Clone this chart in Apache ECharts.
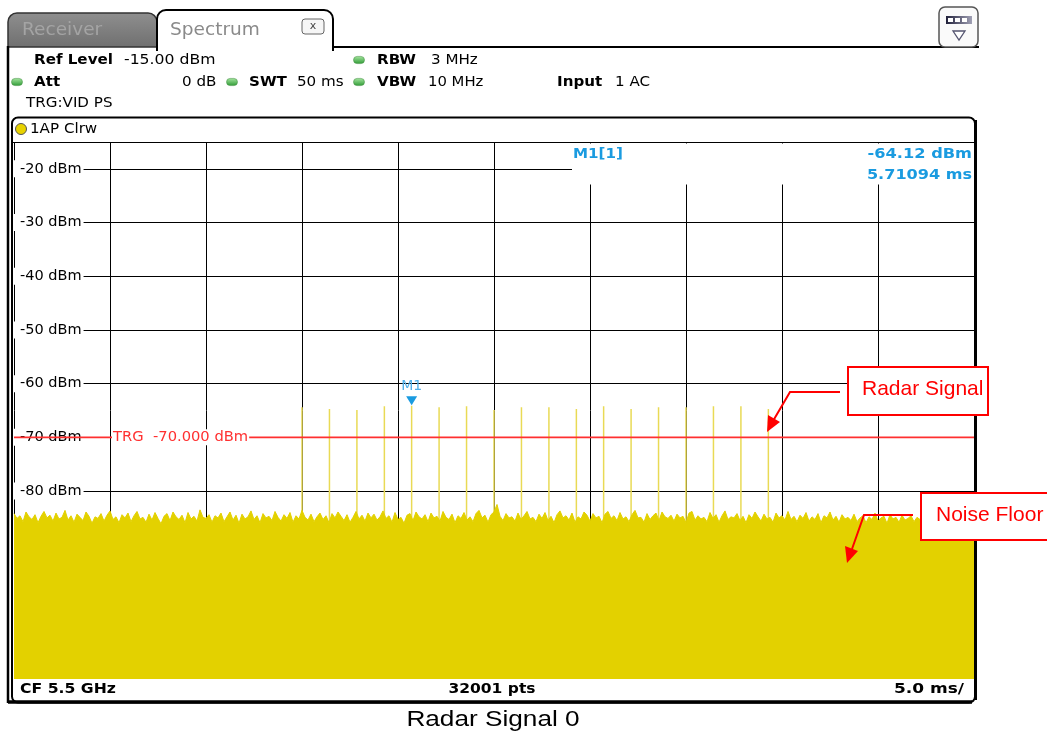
<!DOCTYPE html>
<html><head><meta charset="utf-8">
<script src="https://cdn.jsdelivr.net/npm/echarts@6/dist/echarts.min.js"></script>
<style>html,body{margin:0;padding:0;background:#fff}#c{width:1047px;height:733px}</style>
</head><body><div id="c"></div>
<script>
// ---- data ----
const xStartMs = -15, xEndMs = 35, xStepMs = 5;      // sweep 50 ms, 5 ms/div
const yMinDbm = -115, yMaxDbm = -15;                 // ref level -15 dBm, 10 dB/div
const yTickLabels = [-20, -30, -40, -50, -60, -70, -80];
const triggerLevel = -70;
const markerTime = 5.71094, markerLevel = -64.12;
const spikeTimes = [0.00,1.43,2.86,4.29,5.71,7.14,8.57,10.00,11.43,12.86,14.29,15.71,17.14,18.57,20.00,21.43,22.86,24.29];
const spikePeaks = [-64.4,-64.7,-64.9,-64.2,-64.12,-64.4,-64.2,-64.9,-64.4,-64.4,-64.7,-64.2,-64.7,-64.4,-64.4,-64.2,-64.2,-64.7];
const noiseLevels = [
-84.2,-85.1,-84.6,-85.7,-83.9,-84.8,-85.3,-84.4,-85.9,-84.7,-83.8,-85.0,-84.5,-85.6,-84.1,-85.2,-84.9,-83.6,-85.4,-84.6,
-85.8,-84.3,-84.9,-85.5,-83.9,-84.7,-86.0,-84.8,-85.1,-84.2,-85.6,-84.5,-83.7,-85.3,-84.8,-85.9,-84.4,-85.0,-84.1,-85.7,
-84.6,-83.8,-85.2,-84.9,-85.8,-84.3,-85.4,-84.0,-85.1,-86.1,-84.7,-84.2,-85.5,-83.9,-84.8,-85.3,-84.5,-85.9,-84.0,-85.2,
-84.7,-85.6,-83.5,-84.9,-85.1,-84.4,-85.8,-84.6,-85.0,-84.1,-85.7,-84.8,-83.9,-85.4,-84.5,-86.0,-84.3,-85.2,-84.8,-83.7,
-85.3,-84.6,-85.9,-84.2,-85.0,-84.7,-85.5,-83.8,-84.9,-85.6,-84.4,-85.1,-84.0,-85.8,-84.6,-85.2,-83.6,-84.9,-85.4,-84.3,
-85.7,-84.8,-84.1,-85.3,-84.6,-85.9,-84.2,-85.0,-83.9,-84.7,-85.5,-84.4,-85.8,-84.9,-83.8,-85.2,-84.5,-85.6,-84.1,-85.0,
-84.3,-85.4,-84.8,-83.7,-85.1,-84.6,-85.8,-84.0,-85.3,-84.9,-86.0,-84.5,-84.2,-85.5,-83.9,-84.8,-85.2,-84.4,-85.7,-84.1,
-85.0,-84.7,-85.6,-83.8,-84.9,-85.3,-84.3,-85.9,-84.6,-85.1,-84.0,-85.4,-84.8,-85.7,-84.2,-83.6,-85.0,-84.5,-85.8,-84.4,
-83.9,-82.5,-84.7,-85.5,-84.2,-85.0,-84.8,-85.6,-84.1,-85.3,-84.6,-83.8,-85.2,-84.9,-85.7,-84.3,-85.1,-84.0,-85.5,-84.7,
-85.9,-84.4,-83.7,-85.0,-84.6,-85.4,-84.1,-85.8,-84.8,-85.2,-83.9,-84.5,-85.6,-84.2,-85.0,-84.7,-85.9,-84.3,-83.8,-85.1,
-84.6,-85.5,-84.0,-85.2,-84.8,-85.7,-84.4,-83.6,-85.0,-84.9,-85.8,-84.2,-85.3,-84.6,-84.1,-85.5,-83.9,-84.8,-85.1,-84.5,
-85.6,-84.3,-85.0,-84.7,-85.9,-84.1,-83.8,-85.4,-84.6,-85.2,-84.9,-85.7,-84.0,-85.1,-84.4,-85.8,-84.6,-83.7,-85.3,-84.8,
-85.0,-84.2,-85.5,-84.7,-85.9,-84.4,-85.1,-83.9,-84.8,-85.6,-84.3,-85.2,-84.9,-85.8,-84.1,-85.0,-84.6,-85.4,-83.8,-85.3,
-84.7,-85.7,-84.5,-85.1,-84.0,-85.6,-84.8,-85.3,-84.2,-85.9,-84.6,-85.0,-83.9,-85.4,-84.7,-85.8,-84.4,-85.2,-84.9,-85.5,
-84.3,-85.7,-85.0,-84.6,-85.9,-84.8,-85.3,-84.1,-85.6,-85.0,-84.7,-86.0,-84.4,-85.2,-84.9,-85.8,-84.5,-85.4,-85.1,-84.6,
-85.7,-84.9,-85.3,-86.1,-84.6,-85.5,-85.0,-84.4,-85.8,-85.2,-84.8,-85.6,-85.1,-84.5,-85.9,-84.9,-85.4,-85.0,-85.7,-84.7,
-85.3];

// ---- build series data ----
const noiseStep = (xEndMs - xStartMs) / (noiseLevels.length - 1);
const noiseData = noiseLevels.map((v, i) => [xStartMs + i * noiseStep, v]);
const spikeData = [];
spikeTimes.forEach((t, i) => { spikeData.push([t, yMinDbm], [t, spikePeaks[i]], [t, null]); });
const trgData = [[xStartMs, triggerLevel], [xEndMs, triggerLevel]];

const TRACE = '#e3d100', SPIKE = '#e9da55', BLUE = '#1a9be0', RED = '#ff0000', TRG = '#ff3030';
const INST = 'DejaVu Sans';

const chart = echarts.init(document.getElementById('c'));
chart.setOption({
  animation: false,
  backgroundColor: '#fff',
  grid: { left: 14, right: 73, top: 142, bottom: 54 },
  xAxis: {
    type: 'value', min: xStartMs, max: xEndMs, interval: xStepMs,
    axisLine: { show: false }, axisTick: { show: false }, axisLabel: { show: false },
    splitLine: { show: true, lineStyle: { color: '#000', width: 1 } }
  },
  yAxis: {
    type: 'value', min: yMinDbm, max: yMaxDbm, interval: 5,
    axisLine: { show: false }, axisTick: { show: false },
    splitLine: { show: true, lineStyle: { color: ['rgba(0,0,0,0)', '#000'], width: 1 } },
    axisLabel: {
      inside: true, margin: 0,
      formatter: v => (yTickLabels.indexOf(v) >= 0 ? '{b|' + v + ' dBm}' : ''),
      rich: { b: { fontFamily: INST, fontSize: 14.5, color: '#000', backgroundColor: '#fff', padding: [1, 2, 1, 6] } }
    }
  },
  series: [
    {
      name: 'pulses', type: 'line', data: spikeData, showSymbol: false, connectNulls: false, z: 3,
      lineStyle: { color: SPIKE, width: 1.5 }, silent: true,
      markPoint: {
        silent: true,
        data: [{
          coord: [markerTime, markerLevel], symbol: 'triangle', symbolSize: [11, 9], symbolRotate: 180,
          symbolOffset: [0, -5], itemStyle: { color: BLUE },
          label: { show: true, formatter: 'M1', position: 'top', distance: 3, color: '#4fb0ea', fontFamily: INST, fontSize: 14 }
        }]
      }
    },
    {
      name: 'trace', type: 'line', data: noiseData, showSymbol: false, z: 4, silent: true,
      lineStyle: { color: TRACE, width: 1 },
      areaStyle: { color: TRACE, opacity: 1, origin: 'start' }
    },
    {
      name: 'trigger', type: 'line', data: trgData, showSymbol: false, z: 5, silent: true,
      lineStyle: { color: TRG, width: 1.6 }
    }
  ]
});

// ---- overlays (instrument chrome, annotations) ----
const trgPx = chart.convertToPixel({ gridIndex: 0 }, [-10, triggerLevel]);
function T(x, y, text, o) {
  o = o || {};
  const st = {
    text: text, fill: o.color || '#000', fontFamily: o.family || INST, fontSize: o.size || 13.5,
    fontWeight: o.bold ? 'bold' : 'normal', align: o.align || 'left', verticalAlign: 'middle'
  };
  if (o.bg) { st.backgroundColor = o.bg; st.padding = o.pad || 0; }
  return { type: 'text', x: x, y: y, z: o.z || 20, scaleX: o.sx || 1, style: st };
}
function dot(cx, cy) {
  return { type: 'rect', z: 20, shape: { x: cx - 5.5, y: cy - 3.6, width: 11, height: 7.2, r: 3.6 },
    style: { fill: new echarts.graphic.LinearGradient(0, 0, 0, 1, [{ offset: 0, color: '#a6e6a0' }, { offset: 1, color: '#2f9a35' }]), stroke: '#3d8a3d', lineWidth: 0.5 } };
}
const S = 1.12;
const g = [
  T(0, -12, 'g', { family: 'Liberation Sans', size: 20 }),
  // tabs
  { type: 'rect', z: 15, shape: { x: 8, y: 13, width: 149, height: 34, r: [9, 9, 0, 0] },
    style: { fill: new echarts.graphic.LinearGradient(0, 0, 0, 1, [{ offset: 0, color: '#8f8f8f' }, { offset: 1, color: '#6f6f6f' }]), stroke: '#333', lineWidth: 1.5 } },
  T(22, 30, 'Receiver', { size: 17.5, color: '#a4a4a4', sx: 1.06 }),
  { type: 'rect', z: 15, shape: { x: 157, y: 10, width: 176, height: 40, r: [9, 9, 0, 0] },
    style: { fill: '#fff', stroke: '#000', lineWidth: 2 } },
  { type: 'rect', z: 15, shape: { x: 158, y: 46, width: 174, height: 6 }, style: { fill: '#fff' } },
  T(170, 30, 'Spectrum', { size: 17.5, color: '#8a8a8a', sx: 1.06 }),
  { type: 'rect', z: 16, shape: { x: 302, y: 19, width: 22, height: 15, r: 3 }, style: { fill: '#f6f6f6', stroke: '#666', lineWidth: 1 } },
  T(313, 26, 'x', { size: 11, color: '#444', align: 'center', z: 17 }),
  { type: 'line', z: 15, shape: { x1: 333, y1: 47, x2: 979, y2: 47 }, style: { stroke: '#000', lineWidth: 2 } },
  { type: 'line', z: 15, shape: { x1: 8, y1: 46, x2: 8, y2: 703 }, style: { stroke: '#000', lineWidth: 2.5 } },
  // top-right icon
  { type: 'rect', z: 16, shape: { x: 939, y: 7, width: 39, height: 40, r: 6 }, style: { fill: '#fafafa', stroke: '#555', lineWidth: 1.5 } },
  { type: 'rect', z: 17, shape: { x: 946, y: 16, width: 26, height: 8 },
    style: { fill: new echarts.graphic.LinearGradient(0, 0, 1, 0, [{ offset: 0, color: '#20203a' }, { offset: 1, color: '#a0a0b4' }]) } },
  { type: 'rect', z: 18, shape: { x: 948, y: 18, width: 5, height: 4 }, style: { fill: '#fff' } },
  { type: 'rect', z: 18, shape: { x: 955, y: 18, width: 5, height: 4 }, style: { fill: '#fff' } },
  { type: 'rect', z: 18, shape: { x: 962, y: 18, width: 5, height: 4 }, style: { fill: '#fff' } },
  { type: 'polygon', z: 17, shape: { points: [[953, 31], [965, 31], [959, 40]] }, style: { fill: '#fff', stroke: '#555570', lineWidth: 1.3 } },
  // settings rows
  T(34, 60, 'Ref Level', { bold: true, sx: S }), T(124, 60, '-15.00 dBm', { sx: 1.16 }),
  dot(359, 60), T(377, 60, 'RBW', { bold: true, sx: S }), T(431, 60, '3 MHz', { sx: S }),
  dot(17, 82), T(34, 82, 'Att', { bold: true, sx: S }), T(182, 82, '0 dB', { sx: S }),
  dot(232, 82), T(249, 82, 'SWT', { bold: true, sx: S }), T(297, 82, '50 ms', { sx: S }),
  dot(359, 82), T(377, 82, 'VBW', { bold: true, sx: S }), T(428, 82, '10 MHz', { sx: 1.1 }),
  T(557, 82, 'Input', { bold: true, sx: S }), T(615, 82, '1 AC', { sx: S }),
  T(26, 103, 'TRG:VID PS', { sx: S }),
  // plot frame
  { type: 'rect', z: 15, shape: { x: 12, y: 117.5, width: 963, height: 585, r: 6 }, style: { fill: 'none', stroke: '#000', lineWidth: 2 } },
  { type: 'line', z: 15, shape: { x1: 12, y1: 142.5, x2: 975, y2: 142.5 }, style: { stroke: '#000', lineWidth: 1.2 } },
  { type: 'line', z: 15, shape: { x1: 975.5, y1: 120, x2: 975.5, y2: 700 }, style: { stroke: '#000', lineWidth: 3 } },
  { type: 'line', z: 15, shape: { x1: 8, y1: 702, x2: 972, y2: 702 }, style: { stroke: '#000', lineWidth: 3.5 } },
  { type: 'circle', z: 16, shape: { cx: 21, cy: 129, r: 5.5 }, style: { fill: '#e8d200', stroke: '#555', lineWidth: 1 } },
  T(30, 129, '1AP Clrw', { sx: S }),
  // marker info
  { type: 'rect', z: 10, shape: { x: 572, y: 143.5, width: 402, height: 41 }, style: { fill: '#fff' } },
  T(573, 154, 'M1[1]', { bold: true, color: BLUE, sx: S }),
  T(972, 154, '-64.12 dBm', { bold: true, color: BLUE, align: 'right', sx: 1.2 }),
  T(972, 175, '5.71094 ms', { bold: true, color: BLUE, align: 'right', sx: 1.19 }),
  // trigger label
  T(trgPx[0] + 2, trgPx[1], 'TRG  -70.000 dBm', { color: TRG, size: 14, bg: '#fff', pad: [1, 1, 1, 1], sx: 1.05 }),
  // status bar
  T(20, 689, 'CF 5.5 GHz', { bold: true, sx: 1.16 }),
  T(492, 689, '32001 pts', { bold: true, align: 'center', sx: 1.15 }),
  T(964, 689, '5.0 ms/', { bold: true, align: 'right', sx: 1.26 }),
  // annotations
  { type: 'polyline', z: 25, shape: { points: [[840, 392], [790, 392], [773, 421]] }, style: { stroke: RED, lineWidth: 2, fill: null } },
  { type: 'polygon', z: 25, shape: { points: [[767, 432], [780, 422], [768, 415]] }, style: { fill: RED } },
  { type: 'rect', z: 25, shape: { x: 848, y: 367, width: 140, height: 48 }, style: { fill: '#fff', stroke: RED, lineWidth: 2 } },
  T(862, 389, 'Radar Signal', { family: 'Liberation Sans', size: 21, color: RED, z: 26 }),
  { type: 'polyline', z: 25, shape: { points: [[913, 515], [864, 515], [852, 549]] }, style: { stroke: RED, lineWidth: 2, fill: null } },
  { type: 'polygon', z: 25, shape: { points: [[847, 563], [858, 551], [845, 546]] }, style: { fill: RED } },
  { type: 'rect', z: 25, shape: { x: 921, y: 493, width: 132, height: 47 }, style: { fill: '#fff', stroke: RED, lineWidth: 2 } },
  T(936, 515, 'Noise Floor', { family: 'Liberation Sans', size: 21, color: RED, z: 26 }),
  // caption
  T(493, 720, 'Radar Signal 0', { family: 'Liberation Sans', size: 22, align: 'center', sx: 1.19 })
];
chart.setOption({ graphic: { elements: g } });
</script></body></html>
